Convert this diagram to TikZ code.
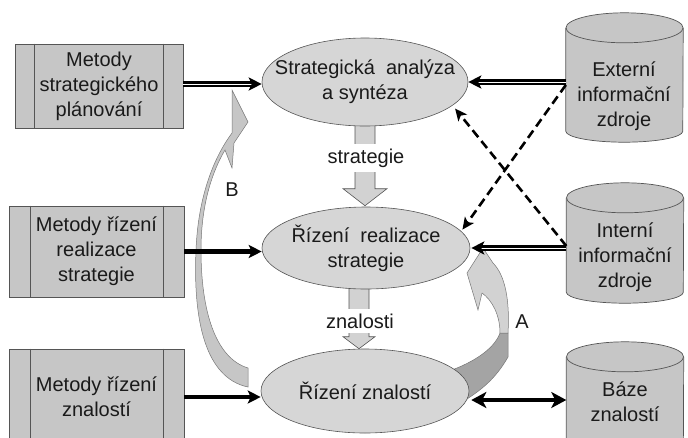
\documentclass[tikz,border=0pt]{standalone}
\usepackage{fontspec}
\setmainfont{Liberation Sans}
\usetikzlibrary{shapes.geometric,arrows.meta,calc}
\definecolor{boxgray}{HTML}{C6C6C6}
\definecolor{ellgray}{HTML}{D6D6D6}
\definecolor{cylgray}{HTML}{C6C6C6}
\definecolor{arrgray}{HTML}{D2D2D2}
\definecolor{darkband}{HTML}{A4A4A4}
\definecolor{edgecol}{HTML}{555555}
\definecolor{txtcol}{HTML}{1A1A1A}
\newcommand\drawcyl[1]{%
  \path[fill=cylgray] (#1.north west) -- (#1.south west) arc[start angle=180,end angle=0,x radius=58.5,y radius=11] -- (#1.north east) -- cycle;
  \draw[edgecol,line width=0.7pt] (#1.north west) -- (#1.south west) arc[start angle=180,end angle=0,x radius=58.5,y radius=11] -- (#1.north east);
  \draw[edgecol,line width=0.7pt,fill=cylgray] (#1.north) ellipse[x radius=58.5,y radius=15];
}
\begin{document}
\begin{tikzpicture}[x=1pt,y=-1pt,
  every node/.style={font=\fontsize{20}{25}\selectfont, text=txtcol, align=center},
  methodbox/.style={draw=edgecol, fill=boxgray, line width=0.8pt, inner sep=0pt},
  proc/.style={ellipse, draw=edgecol, fill=ellgray, line width=0.6pt, inner sep=0pt},
  cylbody/.style={inner sep=0pt, minimum width=117pt},
  dblarr/.style={draw=black, line width=2.3pt, double=white, double distance=0.7pt, -{Stealth[length=13pt,width=13pt,inset=3pt]}},
  solidarr/.style={draw=black, line width=4.5pt, -{Stealth[length=13pt,width=13pt,inset=3pt]}},
  bidarr/.style={draw=black, line width=4pt, {Stealth[length=15pt,width=16pt,inset=4pt]}-{Stealth[length=15pt,width=16pt,inset=4pt]}},
  dasharr/.style={draw=black, line width=2.6pt, dash pattern=on 9pt off 5pt, -{Stealth[length=12pt,width=11pt,inset=3pt]}},
  blockarr/.style={draw=edgecol, fill=arrgray, line width=0.6pt},
  bandarr/.style={draw=edgecol!80, fill=boxgray, line width=0.5pt},
  gaplabel/.style={fill=white, inner xsep=3pt, inner ysep=5pt},
  letter/.style={inner sep=0pt}
]
\useasboundingbox (0,0) rectangle (688,437);
\clip (0,0) rectangle (688,437);

% method boxes
\node[methodbox, minimum width=168pt, minimum height=84pt] (b1) at (99,86) {Metody\\strategického\\plánování};
\node[methodbox, minimum width=175pt, minimum height=91pt] (b2) at (96.5,251.5) {Metody řízení\\realizace\\strategie};
\node[methodbox, minimum width=175pt, minimum height=96pt] (b3) at (96.5,397) {Metody řízení\\znalostí};
\foreach \b/\l/\r in {b1/20/20, b2/22/21, b3/22/21}{
  \draw[edgecol, line width=0.8pt] ($(\b.north west)+(\l,0)$) -- ($(\b.south west)+(\l,0)$);
  \draw[edgecol, line width=0.8pt] ($(\b.north east)+(-\r,0)$) -- ($(\b.south east)+(-\r,0)$);
}

% cylinders
\node[cylbody, minimum height=103pt] (c1) at (624.5,79.5) {};
\node[cylbody, minimum height=94pt] (c2) at (625,245) {};
\node[cylbody, minimum height=102pt] (c3) at (625,408) {};
\drawcyl{c1}
\drawcyl{c2}
\drawcyl{c3}
\node (t1) at (624,96) {Externí\\informační\\zdroje};
\node (t2) at (625,257) {Interní\\informační\\zdroje};
\node (t3) at (625,402) {Báze\\znalostí};

% process ellipses (placed first for anchors, drawn later on top)
\path node[proc, draw=none, fill=none, minimum width=206pt, minimum height=88pt] (e1) at (365,82) {}
      node[proc, draw=none, fill=none, minimum width=208pt, minimum height=82pt] (e2) at (366,248) {}
      node[proc, draw=none, fill=none, minimum width=208pt, minimum height=84pt] (e3) at (365,391) {};

% curved arrow B
\draw[bandarr] (248,387) .. controls (205,378) and (193,320) .. (196,250)
  .. controls (198,200) and (212,160) .. (232,133)
  -- (232,90) -- (248,122) -- (234,143) -- (232,168) -- (225,150)
  .. controls (212,172) and (201,205) .. (201,250)
  .. controls (201,310) and (215,358) .. (248,368) -- cycle;
\node[letter] (lb) at (232,190) {B};

% curved arrow A
\draw[draw=edgecol!80, fill=darkband, line width=0.5pt] (440,374) .. controls (470,365) and (494,350) .. (500,333)
  -- (508,333) -- (508,357) .. controls (496,378) and (482,390) .. (462,402) -- cycle;
\draw[bandarr, fill=arrgray] (500,333) .. controls (500,315) and (492,300) .. (482,293)
  -- (478,310) -- (467,273) -- (483,248) -- (493,263)
  .. controls (505,275) and (510,300) .. (508,333) -- cycle;
\node[letter] (la) at (522,322) {A};

% block arrows between processes
\draw[blockarr] ($(e1.south)+(-10,-2)$) -- ($(e1.south |- e2.north)+(-10,-18)$) -- ($(e1.south |- e2.north)+(-22,-18)$)
  -- ($(e1.south |- e2.north)+(0,-1)$) -- ($(e1.south |- e2.north)+(22,-18)$) -- ($(e1.south |- e2.north)+(10,-18)$)
  -- ($(e1.south)+(10,-2)$) -- cycle;
\draw[blockarr] ($(e2.south)+(-17,-2)$) -- ($(e2.south |- e3.north)+(-17,-12)$) -- ($(e2.south |- e3.north)+(-23,-12)$)
  -- ($(e2.south |- e3.north)+(-7,0)$) -- ($(e2.south |- e3.north)+(9,-12)$) -- ($(e2.south |- e3.north)+(3,-12)$)
  -- ($(e2.south)+(3,-2)$) -- cycle;

% ellipses drawn
\node[proc, minimum width=206pt, minimum height=88pt, label={center:Strategická~ analýza\\a syntéza}] at (e1) {};
\node[proc, minimum width=208pt, minimum height=82pt, label={center:Řízení~ realizace\\strategie}] at (e2) {};
\node[proc, minimum width=208pt, minimum height=84pt, label={center:Řízení znalostí}] at (e3) {};

% labels in block arrows
\node[gaplabel] (ls) at (366,158) {strategie};
\node[gaplabel] (lz) at (360,321) {znalosti};

% arrows from method boxes
\draw[dblarr] (b1.east |- 0,84) -- (e1.west |- 0,84);
\draw[solidarr] (b2.east) -- (b2.east -| e2.west);
\draw[solidarr] (b3.east) -- (b3.east -| e3.west);

% arrows from information sources
\draw[dblarr] (c1.west |- e1.east) -- (e1.east);
\draw[dblarr] (c2.west |- e2.east) -- ($(e2.east)+(1,0)$);
\draw[dasharr, shorten >=2pt] ($(c1.west |- e1.east)+(0,3)$) -- (e2.10);
\draw[dasharr, shorten >=4pt] ($(c2.west |- e2.east)+(0,-2)$) -- (e1.-15);
\draw[bidarr] ($(e3.east)+(2,9)$) -- ($(c3.west |- e3.east)+(0,9)$);
\end{tikzpicture}
\end{document}
